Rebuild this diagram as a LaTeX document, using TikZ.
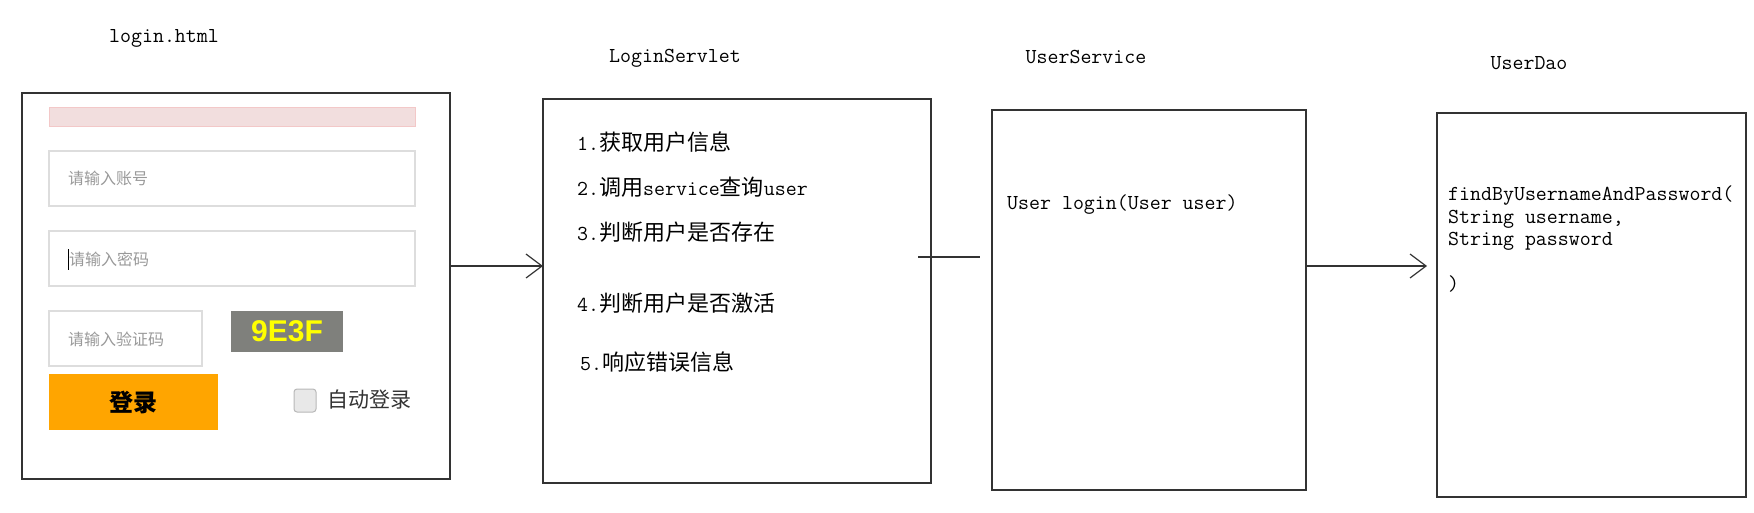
\documentclass[tikz,border=0pt]{standalone}
\usepackage{fontspec}
\newfontfamily\cjk{Noto Sans CJK SC}
\newfontfamily\arial{Liberation Sans}
\usetikzlibrary{arrows.meta}
\definecolor{boxline}{HTML}{333333}
\definecolor{fieldline}{HTML}{DDDDDD}
\definecolor{hintgray}{HTML}{999999}
\definecolor{alertpink}{HTML}{F2DEDE}
\definecolor{btnorange}{HTML}{FFA500}
\definecolor{codegray}{HTML}{7F807C}
\definecolor{codeyellow}{HTML}{FFFF00}
\newcommand{\lat}[1]{{\ttfamily\fontsize{21.3}{25}\selectfont #1}}
\tikzstyle{panel} = [rectangle, draw=boxline, line width=1.3pt, inner sep=0pt, outer sep=0pt]
\tikzstyle{field} = [rectangle, draw=fieldline, line width=1.2pt, inner sep=0pt]
\tikzstyle{caption} = [inner sep=0pt, font=\ttfamily\fontsize{21.3}{25}\selectfont]
\tikzstyle{entry} = [anchor=west, inner sep=0pt, font=\cjk\fontsize{22}{26}\selectfont]
\tikzstyle{hint} = [anchor=west, inner sep=0pt, text=hintgray, font=\cjk\fontsize{16}{18}\selectfont]
\tikzstyle{call} = [-{Straight Barb[length=16pt,width=24pt]}, line width=1.2pt, draw=boxline]

\begin{document}
\begin{tikzpicture}[x=1pt, y=-1pt]
        \useasboundingbox (0,0) rectangle (1754,512);

        % titles
        \node (t1) [caption] at (164,38) {login.html};
        \node (t2) [caption] at (675,58) {LoginServlet};
        \node (t3) [caption] at (1086,57) {UserService};
        \node (t4) [caption] at (1529,63) {UserDao};

        % the four boxes
        \node (html)    [panel, minimum width=428pt, minimum height=386pt] at (236,286) {};
        \node (servlet) [panel, minimum width=388pt, minimum height=384pt] at (737,291) {};
        \node (service) [panel, minimum width=314pt, minimum height=380pt] at (1149,300) {};
        \node (dao)     [panel, minimum width=309pt, minimum height=384pt] at (1591.5,305) {};

        % login form
        \node (alert) [rectangle, fill=alertpink, draw=alertpink!90!red, minimum width=366pt, minimum height=19pt] at (232,116.5) {};
        \node (user)  [field, minimum width=366pt, minimum height=55pt] at (232,178.5) {};
        \node (pwd)   [field, minimum width=366pt, minimum height=55pt] at (232,258.5) {};
        \node (code)  [field, minimum width=153pt, minimum height=55pt] at (125.5,338.5) {};
        \node () [hint] at (68,178) {请输入账号};
        \node () [hint] at (69,259) {请输入密码};
        \draw[line width=1pt] (68,249) -- (68,270);
        \node () [hint] at (68,339) {请输入验证码};
        \node (img) [rectangle, fill=codegray, minimum width=112pt, minimum height=41pt,
                     text=codeyellow, font=\arial\bfseries\fontsize{30}{32}\selectfont] at (287,331.5) {9E3F};
        \node (btn) [rectangle, fill=btnorange, minimum width=169pt, minimum height=56pt,
                     font=\cjk\bfseries\fontsize{24}{26}\selectfont] at (133.5,402) {登录};
        \node (chk) [rectangle, rounded corners=3pt, fill=black!9, draw=black!28, line width=1pt,
                     minimum width=22pt, minimum height=23pt] at (305,400.5) {};
        \node () [anchor=west, inner sep=0pt, text=black!80, font=\cjk\fontsize{21}{24}\selectfont] at (327,400) {自动登录};

        % servlet steps
        \node (s1) [entry] at (577,142) {\lat{1.}获取用户信息};
        \node (s2) [entry] at (577,187) {\lat{2.}调用\lat{service}查询\lat{user}};
        \node (s3) [entry] at (577,232) {\lat{3.}判断用户是否存在};
        \node (s4) [entry] at (577,303) {\lat{4.}判断用户是否激活};
        \node (s5) [entry] at (580,362) {\lat{5.}响应错误信息};

        \node (m1) [caption, anchor=west] at (1007,205) {User login(User user)};
        \node (m2) [caption, anchor=north west, align=left, font=\ttfamily\fontsize{21.3}{22.5}\selectfont]
              at (1448,186) {findByUsernameAndPassword(\\String username,\\String password\\[22.5pt])};

        % connectors
        \coordinate (c1) at (918,257);
        \coordinate (c2) at (980,257);
        \draw[call] (html.east |- 0,266) -- (servlet.west |- 0,266);
        \draw[line width=1.2pt, draw=boxline] (c1) -- (c2);
        \draw[call, shorten >=10pt] (service.east |- 0,266) -- (dao.west |- 0,266);
    \end{tikzpicture}
\end{document}
